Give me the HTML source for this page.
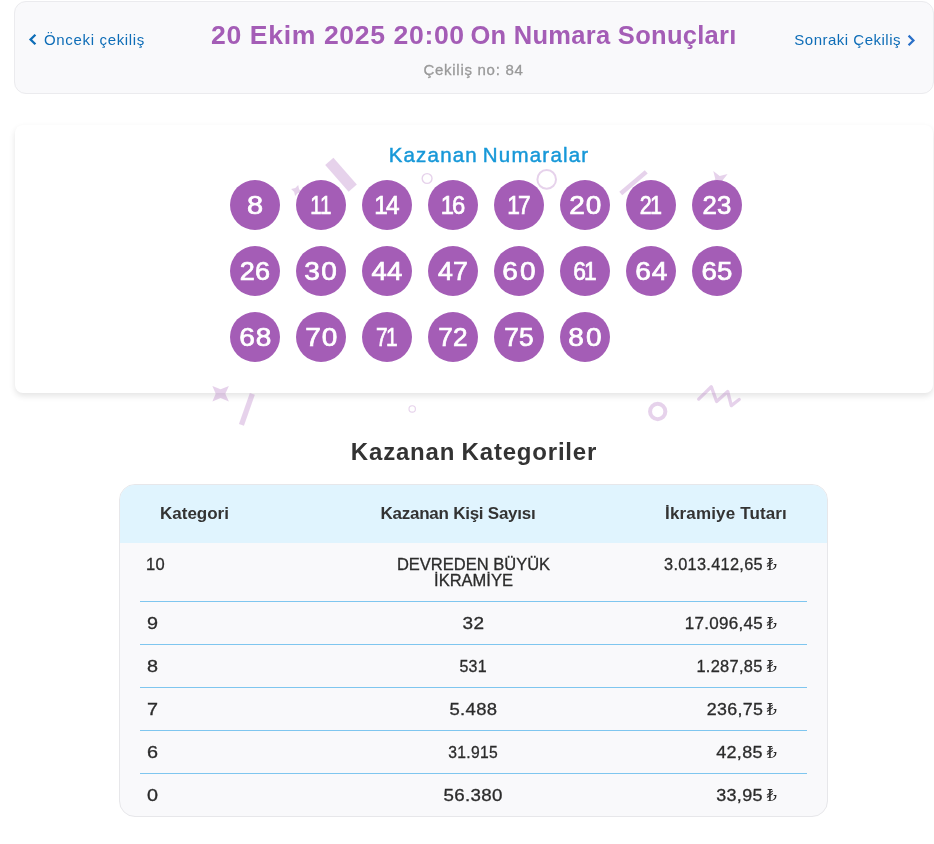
<!DOCTYPE html>
<html lang="tr">
<head>
<meta charset="utf-8">
<title>On Numara Sonuçları</title>
<style>
*{box-sizing:border-box;margin:0;padding:0}
html,body{width:934px;height:844px;background:#fff;overflow:hidden}
body{font-family:"Liberation Sans",sans-serif;color:#333;position:relative}
.abs{position:absolute;white-space:nowrap}
#top{left:14px;top:1px;width:920px;height:93px;background:#f9f9fb;border:1px solid #ebebee;border-radius:12px}
#title{left:211px;top:18px;font-size:25.5px;font-weight:bold;color:#a45db6;line-height:34px}
#t1{display:inline-block;letter-spacing:.6px;transform:scaleX(1.043);transform-origin:0 50%}
#t2{letter-spacing:.29px;margin-left:9px}
#sub{left:0;width:947px;top:60px;text-align:center;font-size:15px;color:#999;line-height:20px;letter-spacing:.72px;-webkit-text-stroke:.3px #999}
.nav{color:#0e6db7;font-size:15px;line-height:20px;top:30px;letter-spacing:.55px}
#prev{left:44px;letter-spacing:.66px}
#next{right:33px;letter-spacing:.5px}
#card{left:15px;top:125px;width:918px;height:268px;background:#fff;border-radius:8px;box-shadow:0 3px 6px rgba(0,0,0,.11)}
#kn{left:0;width:978px;top:142px;text-align:center;font-size:20.5px;color:#1798d8;line-height:26px;letter-spacing:1.2px;word-spacing:-2px;-webkit-text-stroke:.45px #1798d8}
.n{display:inline-block}
.ball{position:absolute;width:50px;height:50px;border-radius:50%;background:#a45db6;color:#fff;font-size:25px;text-align:center;line-height:51px;-webkit-text-stroke:.7px #fff;font-kerning:none}
#kk{left:0;width:948px;top:436px;word-spacing:-1px;text-align:center;font-size:24px;font-weight:bold;color:#333;line-height:32px;letter-spacing:.8px}
#tbl{left:119px;top:484px;width:709px;height:333px;background:#f9f9fb;border:1px solid #e7e7ea;border-radius:16px;overflow:hidden}
#th{position:absolute;left:0;top:0;width:100%;height:58px;background:#e0f4fe}
.h{font-size:17px;font-weight:bold;color:#333;top:503px;line-height:22px}
.c{font-size:16.5px;color:#2b2b2b;line-height:20px;letter-spacing:.3px;-webkit-text-stroke:.3px #2b2b2b}
.sep{position:absolute;left:140px;width:667px;height:1px;background:#7fc6ef}
.tl{font-family:"DejaVu Serif",serif;font-size:16px;-webkit-text-stroke:0;letter-spacing:0}
</style>
</head>
<body>
<div id="top" class="abs"></div>
<svg class="abs" style="left:20px;top:25px" width="24" height="30" viewBox="0 0 24 30"><path d="M15.4 9.7 L10.55 14.5 L15.4 19.3" fill="none" stroke="#0e6db7" stroke-width="2.3"/></svg>
<div id="prev" class="abs nav">Önceki çekiliş</div>
<div id="title" class="abs"><span id="t1">20 Ekim 2025 20:00</span> <span id="t2">On Numara Sonuçları</span></div>
<div id="sub" class="abs">Çekiliş no: 84</div>
<div id="next" class="abs nav">Sonraki Çekiliş</div>
<svg class="abs" style="left:900px;top:25px" width="24" height="30" viewBox="0 0 24 30"><path d="M8.6 10.65 L13.4 15.45 L8.6 20.25" fill="none" stroke="#2a70c8" stroke-width="2.3"/></svg>

<div id="card" class="abs"></div>
<svg id="deco" class="abs" style="left:0;top:0" width="934" height="844" viewBox="0 0 934 844">
<g fill="#a45db6" fill-opacity=".28" stroke="none">
<rect x="-17.7" y="-5.5" width="35.4" height="11" transform="translate(341 174.75) rotate(48.6)"/>
<rect x="-16.7" y="-2.25" width="33.4" height="4.5" transform="translate(633.5 182.7) rotate(-40.3)"/>
<rect x="-2.65" y="-16.4" width="5.3" height="32.8" transform="translate(246.9 409.3) rotate(19.4)"/>
<path d="M212.4 385.9 L220.6 389.2 L228.9 385.9 L225.3 393.7 L228.9 401.6 L220.6 398 L212.4 401.6 L215.7 393.7 Z"/>
<path d="M298.2 184.9 L299.1 189.2 L302.2 192.1 L298.0 193.0 L295.1 196.1 L294.2 191.9 L291.1 189.0 L295.3 188.1 Z"/>
<path d="M713.3 171.1 L719.7 176.1 L727.6 174.1 L722.5 180.5 L724.6 188.4 L718.2 183.3 L710.3 185.4 L715.3 179.0 Z"/>
</g>
<g fill="none" stroke="#a45db6" stroke-opacity=".28">
<circle cx="427.1" cy="178.5" r="4.9" stroke-width="1.4"/>
<circle cx="546.7" cy="179.4" r="9.3" stroke-width="2"/>
<circle cx="412.2" cy="408.9" r="3.2" stroke-width="1.1"/>
<circle cx="657.7" cy="411.5" r="7.65" stroke-width="4"/>
<path d="M698.7 399.1 L711.3 386.8 L716.6 401.5 L727.7 391.5 L731.3 405.6 L739.2 399.5" stroke-width="3.3" stroke-linecap="round" stroke-linejoin="round"/>
</g>
</svg>
<div id="kn" class="abs">Kazanan Numaralar</div>
<div id="balls">
<div class="ball" style="left:230px;top:180px"><span class="n" style="transform:scaleX(1.158)">8</span></div>
<div class="ball" style="left:296px;top:180px"><span class="n" style="transform:scaleX(0.82)"><span style="letter-spacing:-2.0px">1</span>1</span></div>
<div class="ball" style="left:362px;top:180px"><span class="n" style="transform:scaleX(0.975)"><span style="letter-spacing:-2.0px">1</span>4</span></div>
<div class="ball" style="left:428px;top:180px"><span class="n" style="transform:scaleX(0.95)"><span style="letter-spacing:-2.0px">1</span>6</span></div>
<div class="ball" style="left:494px;top:180px"><span class="n" style="transform:scaleX(0.909)"><span style="letter-spacing:-2.0px">1</span>7</span></div>
<div class="ball" style="left:560px;top:180px"><span class="n" style="transform:scaleX(1.12)"><span style="letter-spacing:0.9px">2</span>0</span></div>
<div class="ball" style="left:626px;top:180px"><span class="n" style="transform:scaleX(0.86)"><span style="letter-spacing:-2.0px">2</span>1</span></div>
<div class="ball" style="left:692px;top:180px"><span class="n" style="transform:scaleX(1.03)">23</span></div>
<div class="ball" style="left:230px;top:246px"><span class="n" style="transform:scaleX(1.081)">26</span></div>
<div class="ball" style="left:296px;top:246px"><span class="n" style="transform:scaleX(1.12)"><span style="letter-spacing:1.3px">3</span>0</span></div>
<div class="ball" style="left:362px;top:246px"><span class="n" style="transform:scaleX(1.1)">44</span></div>
<div class="ball" style="left:428px;top:246px"><span class="n" style="transform:scaleX(1.069)">47</span></div>
<div class="ball" style="left:494px;top:246px"><span class="n" style="transform:scaleX(1.12)"><span style="letter-spacing:2.0px">6</span>0</span></div>
<div class="ball" style="left:560px;top:246px"><span class="n" style="transform:scaleX(0.912)"><span style="letter-spacing:-2.0px">6</span>1</span></div>
<div class="ball" style="left:626px;top:246px"><span class="n" style="transform:scaleX(1.12)"><span style="letter-spacing:0.8px">6</span>4</span></div>
<div class="ball" style="left:692px;top:246px"><span class="n" style="transform:scaleX(1.104)">65</span></div>
<div class="ball" style="left:230px;top:312px"><span class="n" style="transform:scaleX(1.12)"><span style="letter-spacing:0.9px">6</span>8</span></div>
<div class="ball" style="left:296px;top:312px"><span class="n" style="transform:scaleX(1.12)"><span style="letter-spacing:0.9px">7</span>0</span></div>
<div class="ball" style="left:362px;top:312px"><span class="n" style="transform:scaleX(0.836)"><span style="letter-spacing:-2.0px">7</span>1</span></div>
<div class="ball" style="left:428px;top:312px"><span class="n" style="transform:scaleX(1.046)">72</span></div>
<div class="ball" style="left:494px;top:312px"><span class="n" style="transform:scaleX(1.052)">75</span></div>
<div class="ball" style="left:560px;top:312px"><span class="n" style="transform:scaleX(1.12)"><span style="letter-spacing:2.0px">8</span>0</span></div>
</div>

<div id="kk" class="abs">Kazanan Kategoriler</div>
<div id="tbl" class="abs"><div id="th"></div></div>
<div class="abs h" style="left:160px">Kategori</div>
<div class="abs h" style="left:308px;width:300px;text-align:center;letter-spacing:-.25px">Kazanan Kişi Sayısı</div>
<div class="abs h" style="right:147px;letter-spacing:.15px">İkramiye Tutarı</div>

<div class="abs c" style="left:146px;top:554px">10</div>
<div class="abs c" style="left:323.5px;width:300px;top:556px;text-align:center;line-height:16px;letter-spacing:0">DEVREDEN BÜYÜK<br>İKRAMİYE</div>
<div class="abs c" style="right:157px;top:554px"><span class="n" style="transform:scaleX(0.99);transform-origin:100% 50%;margin-right:-1px">3.013.412,65</span> <span class="tl">₺</span></div>
<div class="abs c" style="left:147px;top:613px"><span class="n" style="transform:scaleX(1.2);transform-origin:0 50%">9</span></div>
<div class="abs c" style="left:323.5px;width:300px;top:613px;text-align:center"><span class="n" style="transform:scaleX(1.15)">32</span></div>
<div class="abs c" style="right:157px;top:613px"><span class="n" style="transform:scaleX(1.03);transform-origin:100% 50%;margin-right:-1px">17.096,45</span> <span class="tl">₺</span></div>
<div class="abs c" style="left:147px;top:656px"><span class="n" style="transform:scaleX(1.2);transform-origin:0 50%">8</span></div>
<div class="abs c" style="left:323.5px;width:300px;top:656px;text-align:center"><span class="n" style="transform:scaleX(0.97)">531</span></div>
<div class="abs c" style="right:157px;top:656px"><span class="n" style="transform:scaleX(0.994);transform-origin:100% 50%;margin-right:-1px">1.287,85</span> <span class="tl">₺</span></div>
<div class="abs c" style="left:147px;top:699px"><span class="n" style="transform:scaleX(1.2);transform-origin:0 50%">7</span></div>
<div class="abs c" style="left:323.5px;width:300px;top:699px;text-align:center"><span class="n" style="transform:scaleX(1.12)">5.488</span></div>
<div class="abs c" style="right:157px;top:699px"><span class="n" style="transform:scaleX(1.08);transform-origin:100% 50%;margin-right:-1px">236,75</span> <span class="tl">₺</span></div>
<div class="abs c" style="left:147px;top:742px"><span class="n" style="transform:scaleX(1.2);transform-origin:0 50%">6</span></div>
<div class="abs c" style="left:323.5px;width:300px;top:742px;text-align:center"><span class="n" style="transform:scaleX(0.95)">31.915</span></div>
<div class="abs c" style="right:157px;top:742px"><span class="n" style="transform:scaleX(1.09);transform-origin:100% 50%;margin-right:-1px">42,85</span> <span class="tl">₺</span></div>
<div class="abs c" style="left:147px;top:785px"><span class="n" style="transform:scaleX(1.2);transform-origin:0 50%">0</span></div>
<div class="abs c" style="left:323.5px;width:300px;top:785px;text-align:center"><span class="n" style="transform:scaleX(1.135)">56.380</span></div>
<div class="abs c" style="right:157px;top:785px"><span class="n" style="transform:scaleX(1.09);transform-origin:100% 50%;margin-right:-1px">33,95</span> <span class="tl">₺</span></div>
<div class="sep" style="top:601px"></div>
<div class="sep" style="top:644px"></div>
<div class="sep" style="top:687px"></div>
<div class="sep" style="top:730px"></div>
<div class="sep" style="top:773px"></div>
</body>
</html>
